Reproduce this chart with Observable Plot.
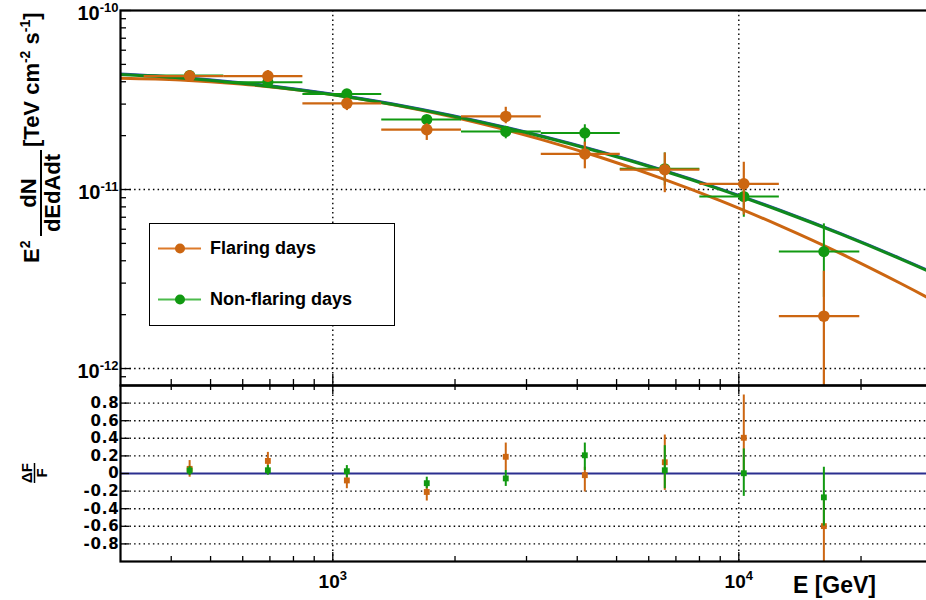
<!DOCTYPE html>
<html><head><meta charset="utf-8">
<script src="https://cdn.jsdelivr.net/npm/d3@7"></script>
<script src="https://cdn.jsdelivr.net/npm/@observablehq/plot@0.6"></script>
<style>
html,body{margin:0;padding:0;background:#fff;overflow:hidden;}
#chart{position:relative;width:926px;height:600px;font-family:"Liberation Sans",Arial,Helvetica,sans-serif;font-weight:bold;}
#chart svg.plot{position:absolute;left:0;overflow:visible;}
#legend{position:absolute;left:149px;top:223px;width:246px;height:103px;border:1.5px solid #000;box-sizing:border-box;background:#fff;}
#legend .item{position:absolute;left:0;height:30px;width:240px;}
#legend .lab{position:absolute;left:60px;top:4px;font-size:18px;font-weight:bold;color:#000;white-space:nowrap;}
</style></head><body><div id="chart"></div>
<script>
// ---- data ----
const energy   = [444, 692, 1083, 1704, 2667, 4176, 6572, 10287, 16200];
const binLow   = [343, 539, 844, 1320, 2075, 3262, 5106, 8017, 12586];
const binHigh  = [539, 844, 1320, 2075, 3262, 5106, 8017, 12586, 19860];

const flareFlux = [4.30e-11, 4.30e-11, 3.03e-11, 2.16e-11, 2.56e-11, 1.58e-11, 1.29e-11, 1.076e-11, 1.96e-12];
const flareLo   = [4.01e-11, 3.97e-11, 2.76e-11, 1.88e-11, 2.33e-11, 1.305e-11, 9.6e-12, 7.2e-12, 1e-13];
const flareHi   = [4.62e-11, 4.62e-11, 3.21e-11, 2.33e-11, 2.88e-11, 1.84e-11, 1.60e-11, 1.42e-11, 3.5e-12];

const quietFlux = [4.33e-11, 3.98e-11, 3.42e-11, 2.46e-11, 2.11e-11, 2.07e-11, 1.305e-11, 9.14e-12, 4.50e-12];
const quietLo   = [4.15e-11, 3.84e-11, 3.30e-11, 2.33e-11, 1.92e-11, 1.77e-11, 1.05e-11, 7.0e-12, 2.5e-12];
const quietHi   = [4.52e-11, 4.12e-11, 3.55e-11, 2.59e-11, 2.23e-11, 2.30e-11, 1.60e-11, 1.12e-11, 6.43e-12];

// fitted model curves at these energies
const fitEnergy = [300, 422, 593, 834, 1172, 1647, 2315, 3253, 4573, 6426, 9031, 12690, 17840, 25060, 29540];
const flareFit  = [4.186e-11, 4.096e-11, 3.890e-11, 3.583e-11, 3.203e-11, 2.777e-11, 2.337e-11, 1.907e-11,
                   1.509e-11, 1.159e-11, 8.647e-12, 6.245e-12, 4.384e-12, 2.985e-12, 2.451e-12];
const quietFit  = [4.389e-11, 4.201e-11, 3.925e-11, 3.587e-11, 3.203e-11, 2.795e-11, 2.380e-11, 1.983e-11,
                   1.614e-11, 1.285e-11, 9.99e-12, 7.585e-12, 5.627e-12, 4.087e-12, 3.469e-12];

const flareRes   = [0.053, 0.143, -0.079, -0.21, 0.19, -0.019, 0.128, 0.406, -0.598];
const flareResLo = [-0.042, -0.004, -0.173, -0.313, 0.034, -0.21, -0.192, -0.004, -1.3];
const flareResHi = [0.147, 0.24, -0.023, -0.135, 0.346, 0.071, 0.437, 0.892, -0.3];
const quietRes   = [0.034, 0.037, 0.026, -0.11, -0.056, 0.207, 0.037, 0.003, -0.271];
const quietResLo = [-0.023, -0.02, -0.049, -0.173, -0.147, 0.034, -0.173, -0.26, -0.598];
const quietResHi = [0.079, 0.09, 0.09, -0.042, 0.034, 0.346, 0.316, 0.279, 0.071];

const xMajor = [1000, 10000];
const xMinor = [400, 500, 600, 700, 800, 900, 2000, 3000, 4000, 5000, 6000, 7000, 8000, 9000, 20000];
const yMajor = [1e-12, 1e-11, 1e-10];
const yMinor = [9e-13, 2e-12, 3e-12, 4e-12, 5e-12, 6e-12, 7e-12, 8e-12, 9e-12,
                2e-11, 3e-11, 4e-11, 5e-11, 6e-11, 7e-11, 8e-11, 9e-11];
const yLabels = ["10^-12", "10^-11", "10^-10"];
const xLabels = ["10^3", "10^4"];
const resTicks = [-0.8, -0.6, -0.4, -0.2, 0, 0.2, 0.4, 0.6, 0.8];
const seriesNames = ["Flaring days", "Non-flaring days"];

// ---- styling ----
const ORANGE = "#cc6611", GREEN = "#119911", GREENFIT = "#10891d";
const FONT = "'Liberation Sans', Arial, Helvetica, sans-serif";
const DOT = "1.5,3.2";

const pts = energy.map((e, i) => ({
  e, lo: binLow[i], hi: binHigh[i],
  f: flareFlux[i], fLo: flareLo[i], fHi: flareHi[i],
  q: quietFlux[i], qLo: quietLo[i], qHi: quietHi[i],
  r: flareRes[i], rLo: flareResLo[i], rHi: flareResHi[i],
  s: quietRes[i], sLo: quietResLo[i], sHi: quietResHi[i]
}));
const fits = fitEnergy.map((e, i) => ({e, f: flareFit[i], q: quietFit[i]}));

const W = 926, ML = 120, MR = -3;
const PW = W - ML - MR;            // plot width
const xDomain = [300, 29490];

// ---- top panel ----
const H1 = 385, MT1 = 10, PH1 = H1 - MT1;
const topPlot = Plot.plot({
  width: W, height: H1, marginLeft: ML, marginRight: MR, marginTop: MT1, marginBottom: 0,
  x: {type: "log", domain: xDomain, axis: null},
  y: {type: "log", domain: [8.04e-13, 1e-10], axis: null},
  style: {fontFamily: FONT, fontWeight: "bold", color: "#000", background: "transparent", overflow: "visible"},
  marks: [
    Plot.ruleY(yMajor.slice(0, 2), {y: d => d, stroke: "#000", strokeWidth: 1.4, strokeDasharray: DOT}),
    Plot.ruleX(xMajor, {x: d => d, stroke: "#000", strokeWidth: 1.4, strokeDasharray: DOT}),
    Plot.tickY(yMinor, {y: d => d, stroke: "#000", strokeWidth: 1.3, insetRight: PW - 6}),
    Plot.tickY(yMajor, {y: d => d, stroke: "#000", strokeWidth: 1.3, insetRight: PW - 11}),
    Plot.tickX(xMinor, {x: d => d, stroke: "#000", strokeWidth: 1.3, insetTop: PH1 - 6}),
    Plot.tickX(xMajor, {x: d => d, stroke: "#000", strokeWidth: 1.3, insetTop: PH1 - 11}),
    // fits
    Plot.line(fits, {x: "e", y: "f", stroke: ORANGE, strokeWidth: 3, curve: "natural", clip: true}),
    Plot.line(fits, {x: "e", y: "q", stroke: "#3344bb", strokeWidth: 2, curve: "natural", clip: true, dy: -1}),
    Plot.line(fits, {x: "e", y: "q", stroke: GREENFIT, strokeWidth: 3, curve: "natural", clip: true}),
    // non-flaring points
    Plot.ruleY(pts, {y: "q", x1: "lo", x2: "hi", stroke: GREEN, strokeWidth: 2, clip: true}),
    Plot.ruleX(pts, {x: "e", y1: "qLo", y2: "qHi", stroke: GREEN, strokeWidth: 2, clip: true}),
    Plot.dot(pts, {x: "e", y: "q", r: 5.6, fill: GREEN, stroke: "none"}),
    // flaring points
    Plot.ruleY(pts, {y: "f", x1: "lo", x2: "hi", stroke: ORANGE, strokeWidth: 2.2, clip: true}),
    Plot.ruleX(pts, {x: "e", y1: "fLo", y2: "fHi", stroke: ORANGE, strokeWidth: 2.2, clip: true}),
    Plot.dot(pts, {x: "e", y: "f", r: 5.8, fill: ORANGE, stroke: "none"}),
    Plot.frame({stroke: "#000", strokeWidth: 2.2}),
    Plot.text(yMajor, {y: d => d, text: (d, i) => yLabels[i], frameAnchor: "left", textAnchor: "end",
      lineAnchor: "bottom", dx: -2, dy: 9, fontSize: 20, fontWeight: "bold", fill: "#000"})
  ]
});

// ---- bottom (residual) panel ----
const TOP2 = 384, H2 = 600 - TOP2, MT2 = 1, MB2 = 39, PH2 = H2 - MT2 - MB2;
const resPlot = Plot.plot({
  width: W, height: H2, marginLeft: ML, marginRight: MR, marginTop: MT2, marginBottom: MB2,
  x: {type: "log", domain: xDomain, axis: null},
  y: {domain: [-1, 1], axis: null},
  style: {fontFamily: FONT, fontWeight: "bold", color: "#000", background: "transparent", overflow: "visible"},
  marks: [
    Plot.ruleY(resTicks.filter(d => d !== 0), {y: d => d, stroke: "#000", strokeWidth: 1.4, strokeDasharray: DOT}),
    Plot.ruleX(xMajor, {x: d => d, stroke: "#000", strokeWidth: 1.4, strokeDasharray: DOT}),
    Plot.ruleY([0], {y: d => d, stroke: "#2b2f8f", strokeWidth: 2.2}),
    Plot.tickY(resTicks, {y: d => d, stroke: "#000", strokeWidth: 1.3, insetRight: PW - 9}),
    Plot.tickX(xMinor, {x: d => d, stroke: "#000", strokeWidth: 1.3, insetTop: PH2 - 5}),
    Plot.tickX(xMajor, {x: d => d, stroke: "#000", strokeWidth: 1.3, insetTop: PH2 - 9}),
    Plot.tickX(xMinor, {x: d => d, stroke: "#000", strokeWidth: 1.3, insetBottom: PH2 - 5}),
    Plot.tickX(xMajor, {x: d => d, stroke: "#000", strokeWidth: 1.3, insetBottom: PH2 - 9}),
    Plot.ruleX(pts, {x: "e", y1: "rLo", y2: "rHi", stroke: ORANGE, strokeWidth: 2, clip: true}),
    Plot.dot(pts, {x: "e", y: "r", symbol: "square", r: 3.3, fill: ORANGE, stroke: "none"}),
    Plot.ruleX(pts, {x: "e", y1: "sLo", y2: "sHi", stroke: GREEN, strokeWidth: 2, clip: true}),
    Plot.dot(pts, {x: "e", y: "s", symbol: "square", r: 3.3, fill: GREEN, stroke: "none"}),
    Plot.frame({stroke: "#000", strokeWidth: 2.2}),
    Plot.text(resTicks, {y: d => d, text: d => d === 0 ? "0" : d.toFixed(1), frameAnchor: "left",
      textAnchor: "end", lineAnchor: "middle", dx: -1, fontSize: 15, fontWeight: "bold", fill: "#000",
      fontFamily: "'DejaVu Sans', sans-serif"}),
    Plot.text(xMajor, {x: d => d, text: (d, i) => xLabels[i], frameAnchor: "bottom", textAnchor: "middle",
      lineAnchor: "bottom", dy: 26, fontSize: 19, fontWeight: "bold", fill: "#000"})
  ]
});

topPlot.classList.add("plot");
resPlot.classList.add("plot");
topPlot.style.top = "0px";
resPlot.style.top = TOP2 + "px";
const chart = document.getElementById("chart");
chart.appendChild(topPlot);
chart.appendChild(resPlot);

// superscripts in tick labels written as base^exp
function supify(svg) {
  d3.select(svg).selectAll("text").each(function () {
    const t = this.textContent;
    if (!t.includes("^")) return;
    const [base, sup] = t.split("^");
    const el = d3.select(this);
    el.text(null);
    el.append("tspan").text(base);
    el.append("tspan").attr("dy", -8).attr("font-size", "13px").text(sup);
  });
}
supify(topPlot);
supify(resPlot);

// widen the residual tick labels a little (as in the reference) without making them taller
d3.select(resPlot).selectAll("text").filter(function () {
  return /^-?0(\.\d)?$/.test(this.textContent);
}).attr("letter-spacing", "0.8px");

// y-axis title of the top panel: E^2 dN/dEdAdt [TeV cm^-2 s^-1]
{
  const g = d3.select(topPlot).append("g")
    .attr("transform", "translate(39,263) rotate(-90)")
    .attr("font-family", FONT).attr("font-weight", "bold").attr("fill", "#000")
    .attr("text-anchor", "start");
  const e2 = g.append("text").attr("x", 0).attr("y", 0).attr("font-size", 22).attr("text-anchor", "start");
  e2.append("tspan").text("E");
  e2.append("tspan").attr("dy", -9).attr("font-size", 14).text("2");
  const cx = 70;
  g.append("text").attr("x", cx).attr("y", -3).attr("text-anchor", "middle").attr("font-size", 22).text("dN");
  g.append("line").attr("x1", cx - 43).attr("x2", cx + 43).attr("y1", 2).attr("y2", 2)
    .attr("stroke", "#000").attr("stroke-width", 2);
  g.append("text").attr("x", cx).attr("y", 21).attr("text-anchor", "middle").attr("font-size", 22).text("dEdAdt");
  const u = g.append("text").attr("x", 116).attr("y", 0).attr("font-size", 22).attr("text-anchor", "start");
  u.append("tspan").text("[TeV cm");
  u.append("tspan").attr("dy", -9).attr("font-size", 14).text("-2");
  u.append("tspan").attr("dy", 9).text(" s");
  u.append("tspan").attr("dy", -9).attr("font-size", 14).text("-1");
  u.append("tspan").attr("dy", 9).text("]");
}

// y-axis title of residual panel: ΔF / F
{
  const g = d3.select(resPlot).append("g")
    .attr("transform", `translate(33,${473 - TOP2}) rotate(-90)`)
    .attr("font-family", FONT).attr("font-weight", "bold").attr("fill", "#000");
  g.append("text").attr("x", 0).attr("y", -1).attr("text-anchor", "middle").attr("font-size", 15).text("ΔF");
  g.append("line").attr("x1", -10).attr("x2", 10).attr("y1", 1.5).attr("y2", 1.5).attr("stroke", "#000").attr("stroke-width", 1.5);
  g.append("text").attr("x", 0).attr("y", 14).attr("text-anchor", "middle").attr("font-size", 15).text("F");
}

// x-axis title
d3.select(resPlot).append("text")
  .attr("x", 876).attr("y", 593 - TOP2).attr("text-anchor", "end")
  .attr("font-family", FONT).attr("font-weight", "bold").attr("font-size", 23).attr("fill", "#000")
  .text("E [GeV]");

// legend
{
  const lg = document.createElement("div");
  lg.id = "legend";
  const cols = [ORANGE, GREEN];
  const lineCols = ["#dd7a2a", "#4cbb4c"];
  seriesNames.forEach((name, i) => {
    const it = document.createElement("div");
    it.className = "item";
    it.style.top = (i === 0 ? 10 : 61) + "px";
    it.innerHTML = `<svg width="60" height="30" style="position:absolute;left:0;top:0">
      <line x1="8" x2="51" y1="14.5" y2="14.5" stroke="${lineCols[i]}" stroke-width="2"/>
      <circle cx="30" cy="14.5" r="5" fill="${cols[i]}"/></svg>
      <span class="lab">${name}</span>`;
    lg.appendChild(it);
  });
  chart.appendChild(lg);
}
</script></body></html>
